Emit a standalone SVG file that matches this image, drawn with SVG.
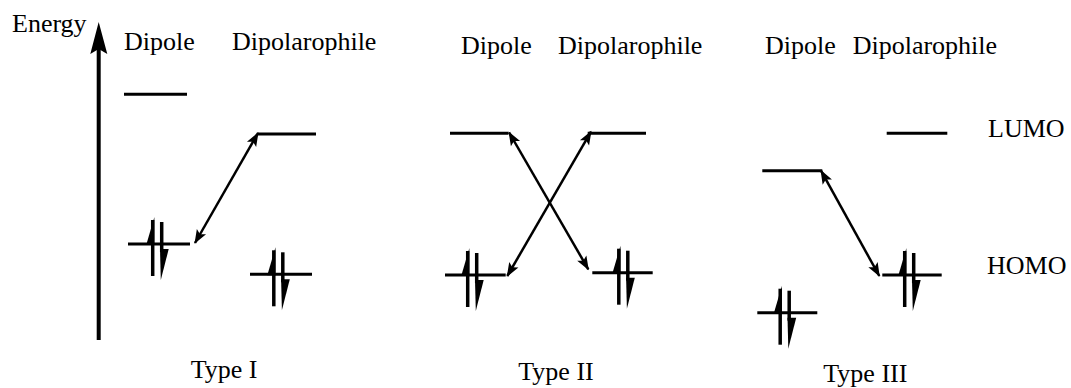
<svg xmlns="http://www.w3.org/2000/svg" width="1071" height="388" viewBox="0 0 1071 388">
<style>
text{font-family:"Liberation Serif","Times New Roman",serif;font-size:26px;fill:#000}
.lvl{stroke:#000;stroke-width:3;fill:none}
.conn{stroke:#000;stroke-width:2.5;fill:none;marker-start:url(#ah);marker-end:url(#ah)}
</style>
<defs>
<marker id="ah" markerUnits="userSpaceOnUse" markerWidth="18" markerHeight="14" viewBox="-15 -7 18 14" refX="0" refY="0" orient="auto-start-reverse">
<path d="M1,0 L-13,-5.3 L-10,0 L-13,5.3 Z" fill="#000"/>
</marker>
<g id="pair">
<line x1="-4.5" y1="32" x2="-4.5" y2="-24" stroke="#000" stroke-width="3.5"/>
<polygon points="-2.8,-27 -11,1 -2.8,1" fill="#000"/>
<line x1="4.5" y1="-22" x2="4.5" y2="8" stroke="#000" stroke-width="3.5"/>
<polygon points="2.8,5 11.5,5 3.6,36" fill="#000"/>
</g>
</defs>
<rect width="1071" height="388" fill="#fff"/>
<g id="axis">
<line x1="98.7" y1="340" x2="98.7" y2="48" stroke="#000" stroke-width="4"/>
<polygon points="98.7,22 107.3,54 98.7,49 90.3,54" fill="#000"/>
<text x="12" y="32">Energy</text>
</g>
<g id="type1">
<text x="124" y="50">Dipole</text>
<text x="232" y="50">Dipolarophile</text>
<g id="t1-dipole-lumo"><line class="lvl" x1="124" y1="94.3" x2="187" y2="94.3"/></g>
<g id="t1-dipo-lumo"><line class="lvl" x1="257" y1="134" x2="316" y2="134"/></g>
<g id="t1-dipole-homo"><line class="lvl" x1="128" y1="244" x2="190" y2="244"/><use href="#pair" x="157.2" y="244"/></g>
<g id="t1-dipo-homo"><line class="lvl" x1="250" y1="274.3" x2="312" y2="274.3"/><use href="#pair" x="278.3" y="274.3"/></g>
<text x="190.7" y="378">Type I</text>
</g>
<g id="type2">
<text x="461" y="54">Dipole</text>
<text x="558" y="54">Dipolarophile</text>
<g id="t2-dipole-lumo"><line class="lvl" x1="450" y1="133.3" x2="508.3" y2="133.3"/></g>
<g id="t2-dipo-lumo"><line class="lvl" x1="587.7" y1="133.3" x2="646" y2="133.3"/></g>
<g id="t2-dipole-homo"><line class="lvl" x1="445" y1="275" x2="505.7" y2="275"/><use href="#pair" x="472.2" y="275"/></g>
<g id="t2-dipo-homo"><line class="lvl" x1="592.3" y1="272.7" x2="652.7" y2="272.7"/><use href="#pair" x="623.3" y="272.7"/></g>
<text x="518.3" y="380">Type II</text>
</g>
<g id="type3">
<text x="765" y="54">Dipole</text>
<text x="852.7" y="54">Dipolarophile</text>
<g id="t3-dipole-lumo"><line class="lvl" x1="762.3" y1="170.7" x2="822.3" y2="170.7"/></g>
<g id="t3-dipo-lumo"><line class="lvl" x1="886.7" y1="133.3" x2="947.3" y2="133.3"/></g>
<g id="t3-dipole-homo"><line class="lvl" x1="757.3" y1="312.7" x2="817.3" y2="312.7"/><use href="#pair" x="784.7" y="312.7"/></g>
<g id="t3-dipo-homo"><line class="lvl" x1="882.3" y1="275" x2="941.7" y2="275"/><use href="#pair" x="909.2" y="275"/></g>
<text x="823.3" y="381.7">Type III</text>
</g>
<g id="legend">
<text x="988" y="137">LUMO</text>
<text x="987" y="274">HOMO</text>
</g>
<g id="connectors">
<line class="conn" x1="258" y1="133" x2="195" y2="243"/>
<line class="conn" x1="509" y1="132.3" x2="588.3" y2="269.3"/>
<line class="conn" x1="591" y1="131.7" x2="507.3" y2="276"/>
<line class="conn" x1="821" y1="170.7" x2="879.3" y2="276"/>
</g>
</svg>
